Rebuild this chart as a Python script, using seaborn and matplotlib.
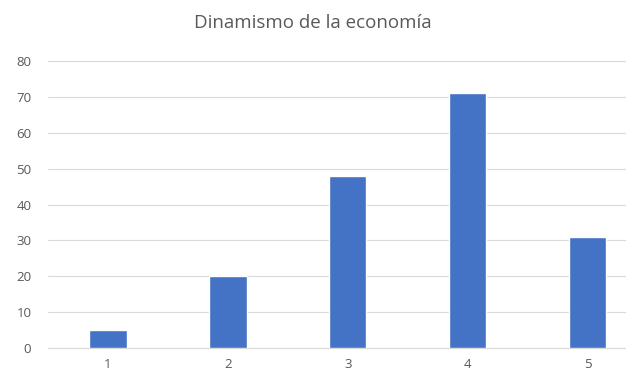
import pandas as pd
import matplotlib
matplotlib.use('Agg')
import matplotlib.pyplot as plt
import seaborn as sns

# Datos del gráfico
categorias = ['1', '2', '3', '4', '5']
valores = [5, 20, 48, 71, 31]
titulo = 'Dinamismo de la economía'

df = pd.DataFrame({'categoria': categorias, 'valor': valores})

sns.set_style('white')
plt.rcParams['font.family'] = ['Open Sans', 'DejaVu Sans']

fig = plt.figure(figsize=(6.26, 3.80), dpi=100)
ax = fig.add_axes([0.0767, 0.0842, 0.958, 0.755])

sns.barplot(data=df, x='categoria', y='valor', color='#4472C4',
            saturation=1, width=0.31, ax=ax, zorder=3)

ax.set_ylim(0, 80)
ax.set_yticks(range(0, 81, 10))
ax.yaxis.grid(True, color='#d9d9d9', linewidth=0.8, zorder=0)
ax.set_axisbelow(True)
for s in ['top', 'right', 'left']:
    ax.spines[s].set_visible(False)
ax.spines['bottom'].set_color('#d9d9d9')
ax.tick_params(axis='both', length=0, labelsize=9.5, colors='#595959')
ax.tick_params(axis='y', pad=12)
ax.tick_params(axis='x', pad=7)
ax.set_xlabel('')
ax.set_ylabel('')

fig.text(0.5, 0.94, titulo, ha='center', va='center', fontsize=13.5, color='#595959')

plt.savefig('out.png', dpi=100)
